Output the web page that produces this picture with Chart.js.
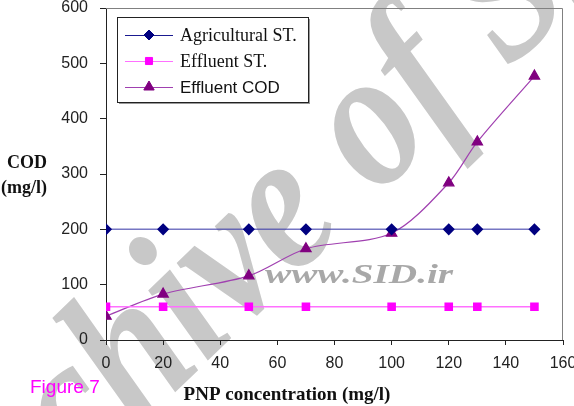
<!DOCTYPE html>
<html>
<head>
<meta charset="utf-8">
<script src="https://cdn.jsdelivr.net/npm/chart.js@4"></script>
<style>
  html, body { margin: 0; padding: 0; background: #fff; }
  #wrap { width: 574px; height: 406px; position: relative; }
</style>
</head>
<body>
<div id="wrap"><canvas id="chart-cod"></canvas></div>
<script>
// PNP concentration (mg/l)
const pnpConc = [0, 20, 50, 70, 100, 120, 130, 150];
const agriculturalST = [200, 200, 200, 200, 200, 200, 200, 200];
const effluentST = [60, 60, 60, 60, 60, 60, 60, 60];
const effluentCOD = [43, 83, 116, 165, 193, 284, 358, 477];
const xTicks = [0, 20, 40, 60, 80, 100, 120, 140, 160];
const yTicks = [0, 100, 200, 300, 400, 500, 600];

const toPoints = (ys) => pnpConc.map((x, i) => ({ x: x, y: ys[i] }));

const legendItems = [
    { label: "Agricultural ST.", line: "#1a1a90", point: "#000080", style: "rectRot", r: 5, font: "18px 'Liberation Serif'" },
    { label: "Effluent ST.", line: "#ff70ff", point: "#ff00ff", style: "rect", r: 5, font: "18px 'Liberation Serif'" },
    { label: "Effluent COD", line: "#a040b0", point: "#800080", style: "triangle", r: 6, font: "17px 'Liberation Sans'" },
];

// watermark under everything else
const watermark = {
    id: "watermark",
    beforeDraw(chart) {
        const ctx = chart.ctx;
        ctx.save();
        ctx.fillStyle = "#c8c8c8";
        ctx.font = "italic bold 182px 'Liberation Serif'";
        ctx.textBaseline = "alphabetic";
        ctx.translate(376, 134);
        ctx.rotate(-44 * Math.PI / 180);
        ctx.scale(0.93, 1.1);
        ctx.fillText("Archive of SID", -678, 42);
        ctx.restore();

        ctx.save();
        ctx.fillStyle = "#a8a8a8";
        ctx.font = "italic bold 28px 'Liberation Serif'";
        ctx.translate(265, 283);
        ctx.scale(1.4, 1);
        ctx.fillText("www.SID.ir", 0, 0);
        ctx.restore();
    },
};

// frame, axis titles, legend box
const extras = {
    id: "extras",
    afterDraw(chart) {
        const ctx = chart.ctx;
        const a = chart.chartArea;
        ctx.save();
        ctx.strokeStyle = "#808080";
        ctx.lineWidth = 1;
        ctx.beginPath();
        ctx.moveTo(a.left, a.top + 0.5);
        ctx.lineTo(a.right - 0.5, a.top + 0.5);
        ctx.lineTo(a.right - 0.5, a.bottom);
        ctx.stroke();

        ctx.fillStyle = "#111";
        ctx.font = "bold 18px 'Liberation Serif'";
        ctx.textAlign = "center";
        ctx.textBaseline = "middle";
        ctx.fillText("COD", 27, 163);
        ctx.fillText("(mg/l)", 24, 188);
        ctx.font = "bold 19px 'Liberation Serif'";
        ctx.fillText("PNP concentration (mg/l)", 287, 395);

        ctx.fillStyle = "#ff00ff";
        ctx.font = "19px 'Liberation Sans'";
        ctx.textAlign = "left";
        ctx.fillText("Figure 7", 30, 388);

        // legend
        const bx = 117, by = 17, bw = 191, bh = 85;
        ctx.fillStyle = "#999";
        ctx.fillRect(bx + 2, by + 2, bw, bh);
        ctx.fillStyle = "#fff";
        ctx.fillRect(bx, by, bw, bh);
        ctx.strokeStyle = "#222";
        ctx.strokeRect(bx + 0.5, by + 0.5, bw, bh);
        const rows = [35, 61, 87];
        legendItems.forEach((it, i) => {
            const y = rows[i];
            ctx.strokeStyle = it.line;
            ctx.lineWidth = 1;
            ctx.beginPath();
            ctx.moveTo(125, y + 0.5);
            ctx.lineTo(173, y + 0.5);
            ctx.stroke();
            ctx.fillStyle = it.point;
            ctx.strokeStyle = it.point;
            Chart.helpers.drawPoint(ctx, { pointStyle: it.style, radius: it.r, borderWidth: 1, rotation: 0 }, 149, y);
            ctx.fillStyle = "#111";
            ctx.font = it.font;
            ctx.textAlign = "left";
            ctx.textBaseline = "middle";
            ctx.fillText(it.label, 180, y + 1);
        });
        ctx.restore();
    },
};

const noPad = (s) => {
    s.paddingLeft = 0;
    s.paddingRight = 0;
    s.paddingTop = 0;
    s.paddingBottom = 0;
};

new Chart(document.getElementById("chart-cod"), {
    type: "line",
    data: {
        datasets: [
            {
                label: "Agricultural ST.",
                data: toPoints(agriculturalST),
                borderColor: "rgba(60, 60, 170, 0.7)",
                backgroundColor: "#000080",
                pointBackgroundColor: "#000080",
                pointBorderColor: "#000080",
                pointStyle: "rectRot",
                pointRadius: 5,
                borderWidth: 1.5,
                tension: 0,
            },
            {
                label: "Effluent ST.",
                data: toPoints(effluentST),
                borderColor: "#ff70ff",
                backgroundColor: "#ff00ff",
                pointBackgroundColor: "#ff00ff",
                pointBorderColor: "#ff00ff",
                pointStyle: "rect",
                pointRadius: 5,
                borderWidth: 1.5,
                tension: 0,
            },
            {
                label: "Effluent COD",
                data: toPoints(effluentCOD),
                borderColor: "#a040b0",
                backgroundColor: "#800080",
                pointBackgroundColor: "#800080",
                pointBorderColor: "#800080",
                pointStyle: "triangle",
                pointRadius: 6,
                borderWidth: 1.2,
                tension: 0.3,
            },
        ],
    },
    options: {
        responsive: true,
        maintainAspectRatio: false,
        animation: false,
        layout: { padding: { left: 0, top: 8, right: 11, bottom: 0 } },
        plugins: {
            legend: { display: false },
            tooltip: { enabled: false },
        },
        scales: {
            x: {
                type: "linear",
                min: 0,
                max: 160,
                afterBuildTicks: (s) => { s.ticks = xTicks.map((v) => ({ value: v })); },
                afterFit: (s) => { s.height = 66; noPad(s); },
                grid: { drawOnChartArea: false, drawTicks: true, tickLength: 5, color: "#222" },
                border: { color: "#222", width: 1 },
                ticks: { color: "#222", padding: 9, maxRotation: 0, font: { family: "'Liberation Sans'", size: 16 } },
            },
            y: {
                min: 0,
                max: 600,
                afterBuildTicks: (s) => { s.ticks = yTicks.map((v) => ({ value: v })); },
                afterFit: (s) => { s.width = 106; noPad(s); },
                grid: { drawOnChartArea: false, drawTicks: true, tickLength: 6, color: "#222" },
                border: { color: "#222", width: 1 },
                ticks: { color: "#222", padding: 12, font: { family: "'Liberation Sans'", size: 16 } },
            },
        },
    },
    plugins: [watermark, extras],
});
</script>
</body>
</html>
